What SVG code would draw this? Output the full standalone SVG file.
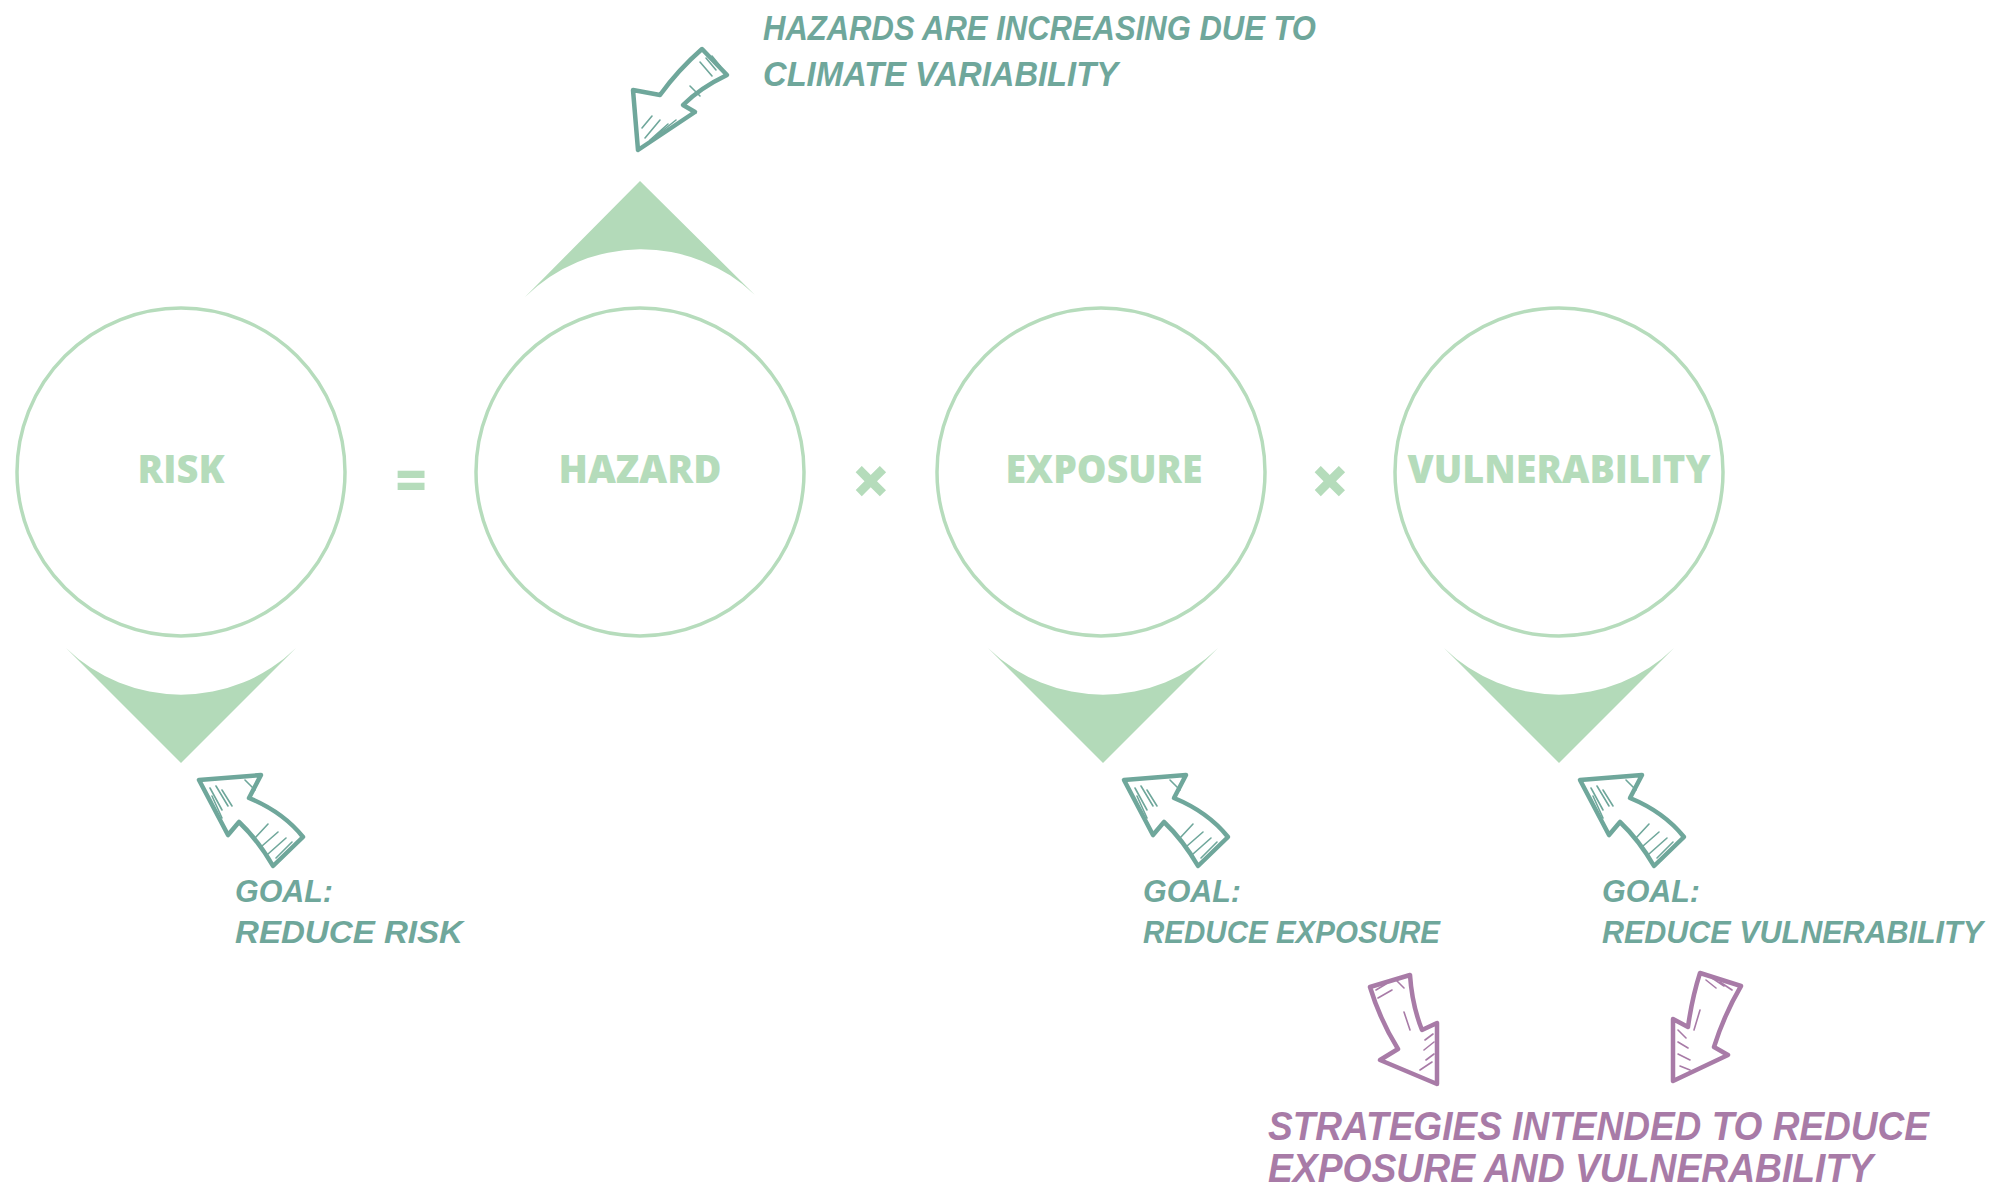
<svg xmlns="http://www.w3.org/2000/svg" width="2002" height="1192" viewBox="0 0 2002 1192">
<style>
.ring{fill:none;stroke:#b6dcbc;stroke-width:3.5}
.lbl{font-family:"Open Sans","Liberation Sans",sans-serif;font-weight:800;font-size:38px;fill:#b5dcbb;text-anchor:middle}
.op{font-family:"Open Sans","Liberation Sans",sans-serif;font-weight:800;fill:#b5dcbb;text-anchor:middle}
.chev{fill:#b3dab9}
.hand{font-family:"Liberation Sans",sans-serif;font-weight:bold;font-style:italic}
.teal{fill:#6fa79b}
.purp{fill:#a87ba7}
.arT{fill:#ffffff;stroke:#6fa79b;stroke-width:4.5;stroke-linejoin:round;stroke-linecap:round}
.arP{fill:#ffffff;stroke:#a87ba7;stroke-width:4.5;stroke-linejoin:round;stroke-linecap:round}
.hT{fill:none;stroke:#6fa79b;stroke-width:1.6;stroke-linecap:round}
.hP{fill:none;stroke:#a87ba7;stroke-width:1.6;stroke-linecap:round}
</style>
<defs>
<g id="goalArrow">
<path class="arT" d="M199,780 L261,775 L249,798 Q283,812 303,837 L273,866 Q258,840 239,822 L228,835 Z"/>
<path class="hT" d="M210,788 L222,810 M216,786 L228,806 M222,790 L232,806 M212,796 L222,818 M255,838 L268,824 M262,846 L278,832 M268,854 L286,838 M276,858 L292,842 M245,780 L255,790"/>
</g>
</defs>
<g id="risk">
<circle class="ring" cx="181" cy="472" r="164"/>
<text class="lbl" x="181" y="483" textLength="87" lengthAdjust="spacingAndGlyphs">RISK</text>
</g>
<g id="hazard">
<circle class="ring" cx="640" cy="472" r="164"/>
<text class="lbl" x="640" y="483" textLength="163" lengthAdjust="spacingAndGlyphs">HAZARD</text>
</g>
<g id="exposure">
<circle class="ring" cx="1101" cy="472" r="164"/>
<text class="lbl" x="1104" y="483" textLength="197" lengthAdjust="spacingAndGlyphs">EXPOSURE</text>
</g>
<g id="vulnerability">
<circle class="ring" cx="1559" cy="472" r="164"/>
<text class="lbl" x="1559" y="483" textLength="303" lengthAdjust="spacingAndGlyphs">VULNERABILITY</text>
</g>
<g id="operators">
<text class="op" x="411" y="500" font-size="54">=</text>
<text class="op" x="871" y="505" font-size="68">×</text>
<text class="op" x="1330" y="505" font-size="68">×</text>
</g>
<g id="chevrons">
<path class="chev" d="M525,297 L640,181 L755,295 A165,165 0 0 0 525,297 Z"/>
<path class="chev" d="M66,648 A165,165 0 0 0 296,648 L181,763 Z"/>
<path class="chev" d="M988,648 A165,165 0 0 0 1218,648 L1103,763 Z"/>
<path class="chev" d="M1444,648 A165,165 0 0 0 1674,648 L1559,763 Z"/>
</g>
<g id="connectors">
<g id="arrow-hazard">
<path class="arT" d="M702,49 L727,75 Q700,88 683,105 L695,112 L638,150 L633,90 L660,95 Q678,70 702,49 Z"/>
<path class="hT" d="M706,58 L716,70 M712,56 L720,66 M700,62 L712,76 M645,138 L660,120 M650,140 L668,124 M656,136 L676,120 M642,128 L652,116 M690,86 L700,96"/>
</g>
<use href="#goalArrow"/>
<use href="#goalArrow" transform="translate(925,0)"/>
<use href="#goalArrow" transform="translate(1381,0)"/>
<g id="arrow-strat-left">
<path class="arP" d="M1370,987 L1410,975 Q1412,1005 1422,1030 L1437,1023 L1437,1084 L1380,1060 L1398,1049 Q1380,1020 1370,987 Z"/>
<path class="hP" d="M1376,990 L1386,984 M1378,998 L1392,990 M1396,980 L1404,988 M1425,1040 L1433,1034 M1424,1050 L1434,1042 M1426,1060 L1434,1054 M1420,1070 L1432,1062 M1404,1012 L1410,1030"/>
</g>
<g id="arrow-strat-right">
<path class="arP" d="M1700,973 L1741,986 Q1724,1015 1714,1047 L1728,1055 L1673,1081 L1673,1019 L1688,1027 Q1692,998 1700,973 Z"/>
<path class="hP" d="M1706,980 L1716,988 M1712,978 L1724,986 M1720,982 L1732,990 M1678,1030 L1686,1038 M1678,1042 L1688,1048 M1678,1054 L1690,1060 M1680,1066 L1690,1070 M1700,1010 L1694,1030"/>
</g>
</g>
<g id="annotations">
<text class="hand teal" x="763" y="40" font-size="35" textLength="553" lengthAdjust="spacingAndGlyphs">HAZARDS ARE INCREASING DUE TO</text>
<text class="hand teal" x="763" y="86" font-size="35" textLength="355" lengthAdjust="spacingAndGlyphs">CLIMATE VARIABILITY</text>
<text class="hand teal" x="235" y="902" font-size="31" textLength="98" lengthAdjust="spacingAndGlyphs">GOAL:</text>
<text class="hand teal" x="235" y="943" font-size="31" textLength="228" lengthAdjust="spacingAndGlyphs">REDUCE RISK</text>
<text class="hand teal" x="1143" y="902" font-size="31" textLength="98" lengthAdjust="spacingAndGlyphs">GOAL:</text>
<text class="hand teal" x="1143" y="943" font-size="31" textLength="297" lengthAdjust="spacingAndGlyphs">REDUCE EXPOSURE</text>
<text class="hand teal" x="1602" y="902" font-size="31" textLength="98" lengthAdjust="spacingAndGlyphs">GOAL:</text>
<text class="hand teal" x="1602" y="943" font-size="31" textLength="381" lengthAdjust="spacingAndGlyphs">REDUCE VULNERABILITY</text>
<text class="hand purp" x="1268" y="1140" font-size="40" textLength="661" lengthAdjust="spacingAndGlyphs">STRATEGIES INTENDED TO REDUCE</text>
<text class="hand purp" x="1268" y="1182" font-size="40" textLength="605" lengthAdjust="spacingAndGlyphs">EXPOSURE AND VULNERABILITY</text>
</g>
</svg>
